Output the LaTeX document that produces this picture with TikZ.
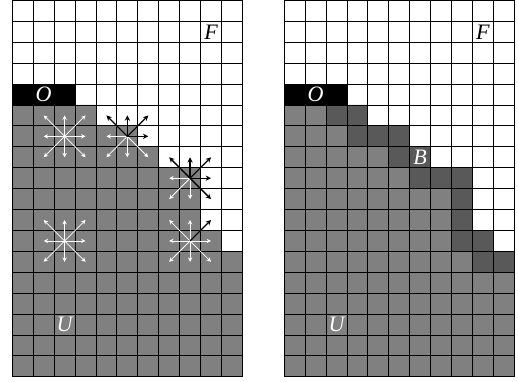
\documentclass[tikz,border=0pt]{standalone}
\usepackage{fontspec}
\setmainfont{Liberation Serif}
\usetikzlibrary{arrows.meta}
\definecolor{cellgray}{gray}{0.5}
\definecolor{edgegray}{gray}{0.35}

\begin{document}
\begin{tikzpicture}[x=5mm,y=-5mm,
  gridline/.style={line width=.6pt},
  lab/.style={font=\fontsize{15}{15}\selectfont\itshape,inner sep=0pt},
  warr/.style={white,line width=.5pt,-{Stealth[length=3pt,width=3pt]}},
  barr/.style={black,line width=.9pt,-{Stealth[length=3.6pt,width=3.6pt]}}]
\useasboundingbox (-.59,-.02) rectangle (24.18,18.24);
% unknown region and start block, both grids
\foreach \gx in {0,13}{
  \begin{scope}[xshift=\gx*5mm]
  \fill[cellgray] (0,5) -- (4,5) -- (4,6) -- (6,6) -- (6,7) -- (7,7) -- (7,8) -- (9,8) -- (9,11) -- (10,11) -- (10,12) -- (11,12) -- (11,18) -- (0,18) -- cycle;
  \fill[black] (0,4) rectangle (3,5);
  \end{scope}
}
% boundary cells (right grid)
\foreach \c/\r in {2/5,3/5,3/6,4/6,5/6,5/7,6/7,6/8,7/8,8/8,8/9,8/10,8/11,9/11,9/12,10/12}
  \fill[edgegray] (13+\c,\r) rectangle ++(1,1);
% grid lines and labels
\foreach \gx/\g in {0/l,13/r}{
  \begin{scope}[xshift=\gx*5mm]
  \foreach \i in {0,...,11} \draw[gridline] (\i,0) -- (\i,18);
  \foreach \j in {0,...,18} \draw[gridline] (0,\j) -- (11,\j);
  \node[lab] (F\g) at (9.5,1.5) {F};
  \node[lab,white] (O\g) at (1.5,4.5) {O};
  \node[lab,white] (U\g) at (2.5,15.5) {U};
  \end{scope}
}
\node[lab,white] (B) at (19.5,7.5) {B};
% neighbour arrows
\foreach \c/\r [count=\i] in {2/6,5/6,8/8,2/11,8/11}
  \coordinate (st\i) at (\c+.5,\r+.5);
\foreach \i in {1,...,5}
  \foreach \dx/\dy in {1/0,1/1,0/1,-1/1,-1/0,-1/-1,0/-1,1/-1}
    \draw[warr] (st\i) -- ++(\dx,\dy);
\foreach \i/\dx/\dy in {2/-1/-1,2/0/-1,2/1/-1,2/1/0,3/-1/-1,3/0/-1,3/1/-1,3/1/0,3/1/1,5/1/-1}
  \draw[barr] (st\i) -- ++(\dx,\dy);
\end{tikzpicture}
\end{document}
